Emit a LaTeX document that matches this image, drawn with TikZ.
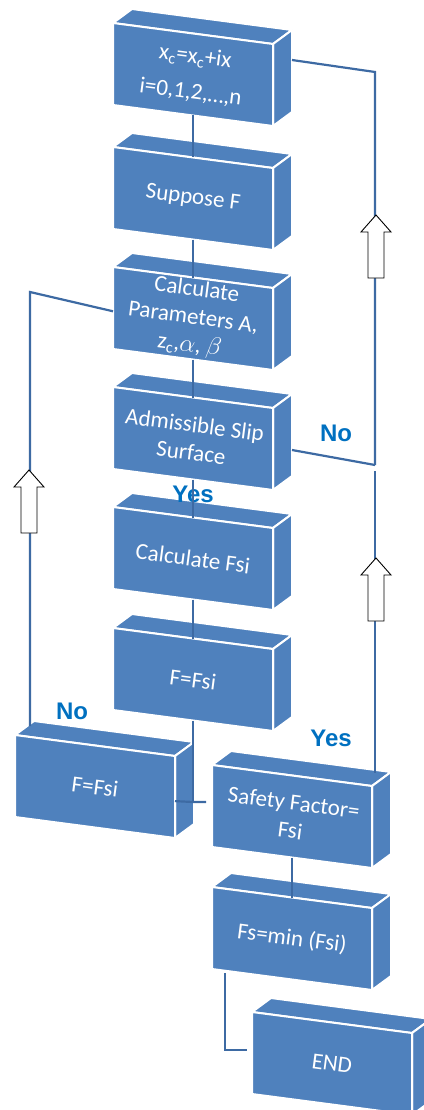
\documentclass[tikz,border=0pt]{standalone}
\usepackage{fontspec}
\setmainfont{Carlito}
\newfontfamily\lblfont{Liberation Sans}
\usetikzlibrary{calc,positioning}
\definecolor{boxblue}{HTML}{4F81BD}
\definecolor{flowblue}{HTML}{3D6AA3}
\definecolor{lblblue}{HTML}{0070C0}

% 3d box: name, x, y of front top-left corner, text
\newcommand{\flowbox}[4]{%
    \coordinate (#1-nw) at (#2,#3);
    \coordinate (#1-ne) at ($(#1-nw)+(160,21)$);
    \coordinate (#1-sw) at ($(#1-nw)+(0,82)$);
    \coordinate (#1-se) at ($(#1-ne)+(0,82)$);
    \coordinate (#1-n) at ($(#1-nw)!0.5!(#1-ne)$);
    \coordinate (#1-s) at ($(#1-sw)!0.5!(#1-se)$);
    \filldraw[face] (#1-nw) -- ++(19,-14) -- ($(#1-ne)+(19,-14)$)
        -- (#1-ne) -- cycle;
    \filldraw[face] (#1-ne) -- ++(19,-14) -- ($(#1-se)+(19,-14)$)
        -- (#1-se) -- cycle;
    \filldraw[face] (#1-nw) -- (#1-ne) -- (#1-se) -- (#1-sw) -- cycle;
    \node[boxtext] (#1) at ($(#1-nw)!0.5!(#1-se)$) {#4};
}
% hollow up arrow: x of axis, y of tip
\newcommand{\hollowup}[2]{%
    \filldraw[hollow] (#1,#2) -- ++(15,17) -- ++(-7,0) -- ++(0,46)
        -- ++(-16,0) -- ++(0,-46) -- ++(-7,0) -- cycle;
}

\begin{document}
\begin{tikzpicture}[
    x=1pt, y=-1pt,
    face/.style={fill=boxblue,draw=white,line width=2pt,line join=round},
    boxtext/.style={text=white,align=center,rotate=-7.5,inner sep=0pt,
        font=\fontsize{23}{28}\selectfont},
    flow/.style={draw=flowblue,line width=2.2pt},
    hollow/.style={draw=black,fill=white,line width=0.9pt},
    lbl/.style={text=lblblue,inner sep=0pt,
        font=\lblfont\bfseries\fontsize{24}{26}\selectfont},
    ]
    \useasboundingbox (0,0) rectangle (423,1110);
    \node[lbl] (no1) at (336,433) {No};
    \node[lbl] (no2) at (72,711) {No};
    \node[lbl] (yes2) at (331,738) {Yes};

    \flowbox{b1}{113}{23}{x\textsubscript{c}=x\textsubscript{c}+ix\\[8pt]
        i=0,1,2,\dots,n}
    \flowbox{b2}{113}{147}{Suppose F}
    \flowbox{b3}{113}{267}{Calculate\\Parameters A,\\
        z\textsubscript{c},$\alpha$, $\beta$}
    \flowbox{b4}{113}{387}{Admissible Slip\\Surface}
    \flowbox{b5}{113}{507}{Calculate Fsi}
    \flowbox{b6}{113}{628}{F=Fsi}
    \flowbox{b7}{15}{735}{F=Fsi}
    \flowbox{b8}{212}{765}{Safety Factor=\\Fsi}
    \flowbox{b9}{212}{887}{Fs=min (Fsi)}
    \flowbox{b10}{252}{1012}{END}

    \node[lbl] (yes1) at (193,494) {Yes};

    % main line
    \draw[flow] (b1-s) -- (b2-n);
    \draw[flow] (b2-s) -- (b3-n);
    \draw[flow] (b3-s) -- (b4-n);
    \draw[flow] (b4-s) -- (b5-n);
    \draw[flow] (b5-s) -- (b6-n);
    \coordinate (j) at (193,802);
    \draw[flow] (b6-s) -- (j);
    \draw[flow] ($(b7-ne)!0.55!(b7-se)$) -- (j)
        -- ($(j -| b8-nw)+(-6,0)$);
    \draw[flow] (b8-s) -- (b9-n);
    \draw[flow] ($(b9-sw)+(13,4)$) |- ($(b10-nw)+(-5,38)$);

    % loop back, left
    \coordinate (lt) at (30,292);
    \draw[flow] ($(b3-nw)!0.54!(b3-sw)$) -- (lt)
        -- ($(lt |- b7-nw)+(0,-9)$);
    % loop back, right
    \coordinate (rt) at (375,72);
    \coordinate (rm) at (375,465);
    \draw[flow] ($(b1-ne)+(19,16)$) -- (rt) -- (rm);
    \draw[flow] ($(b4-ne)+(19,42)$) -- (rm);
    \draw[flow] ($(rm)+(0,6)$) -- ($(b8-ne)+(3,-13)$);

    \hollowup{29}{470}
    \hollowup{376}{215}
    \hollowup{376}{558}
\end{tikzpicture}
\end{document}
